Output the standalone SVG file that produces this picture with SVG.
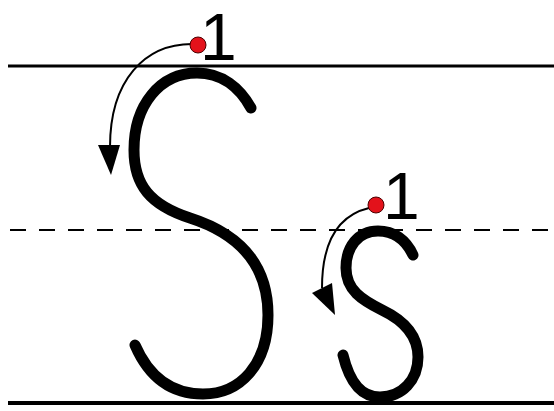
<svg xmlns="http://www.w3.org/2000/svg" width="554" height="411" viewBox="0 0 554 411">
<style>
.rule{stroke:#000;stroke-width:3;fill:none}
.dash{stroke:#000;stroke-width:2;stroke-dasharray:16 13;fill:none}
.letter{stroke:#000;stroke-width:11;fill:none;stroke-linecap:round;stroke-linejoin:round}
.guide{stroke:#000;stroke-width:2;fill:none}
.head{fill:#000}
.dot{fill:#e3121b;stroke:#4a0000;stroke-width:1}
.num{font-family:"Liberation Sans",Arial,sans-serif;font-size:66px;fill:#000}
</style>
<rect width="554" height="411" fill="#fff"/>
<g id="lines">
<line class="rule" x1="8" y1="66" x2="554" y2="66"/>
<line class="dash" x1="10" y1="230" x2="554" y2="230"/>
<line class="rule" x1="8" y1="403" x2="554" y2="403" style="stroke-width:4"/>
</g>
<g id="big-S">
<path class="letter" d="M251 108 C240 88 222 73 197 73 C160 73 134 105 134 150 C134 185 150 205 190 218 C240 234 268 265 268 315 C268 365 240 394 203 394 C170 394 148 375 135 345"/>
</g>
<g id="small-s">
<path class="letter" d="M413 255 C406 240 394 231 378 231 C358 231 346 247 346 268 C346 290 362 300 382 310 C405 321 418 336 418 357 C418 380 402 397 380 397 C362 397 350 384 343 355"/>
</g>
<g id="connectors">
<path class="guide" d="M192 44 C145 44 110 80 110 147"/>
<polygon class="head" points="98,145 120,145 111,175"/>
<path class="guide" d="M369 208 C340 215 322 240 322 288"/>
<polygon class="head" points="312,293 332,283 335,315"/>
</g>
<g id="start-big">
<circle class="dot" cx="198" cy="45" r="8"/>
<text class="num" x="200" y="60">1</text>
</g>
<g id="start-small">
<circle class="dot" cx="376" cy="205" r="8"/>
<text class="num" x="383" y="219">1</text>
</g>
</svg>
